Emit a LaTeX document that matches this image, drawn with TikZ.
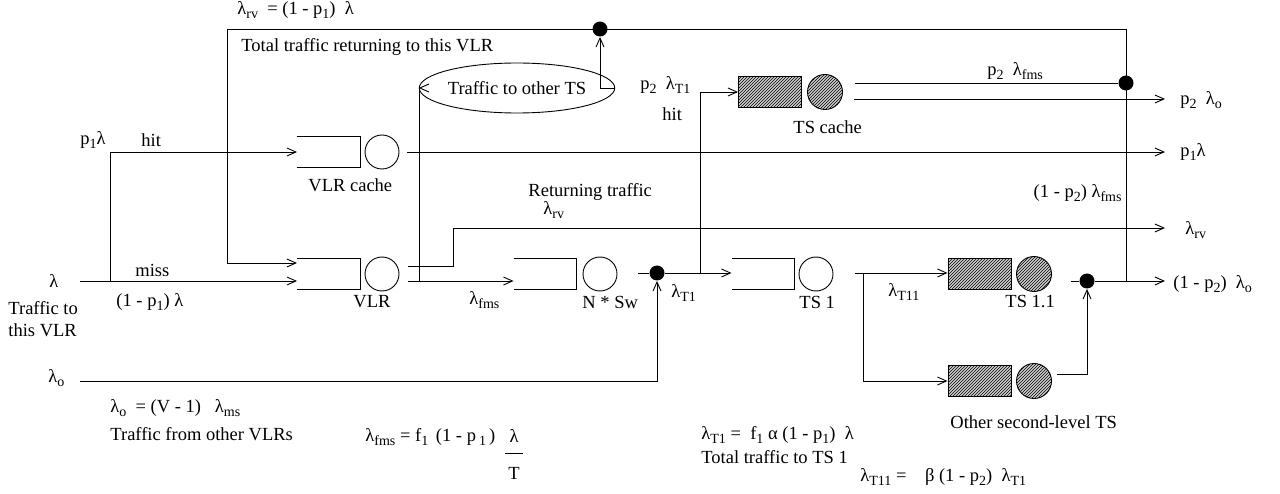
\documentclass[tikz,border=0pt]{standalone}
\usepackage{fontspec}
\setmainfont{Liberation Serif}
\newfontfamily\serf{Liberation Serif}
\usetikzlibrary{arrows.meta,patterns,shapes.geometric}
\newcommand\lsub[1]{\raisebox{-0.55ex}{\fontsize{14}{14}\selectfont #1}}
\begin{document}
\begin{tikzpicture}[x=1pt,y=-1pt,
  font=\serf\fontsize{18.5}{22}\selectfont,
  line width=0.9pt,
  arr/.style={-{Straight Barb[length=9pt,width=8pt]}},
  lbl/.style={inner sep=0pt,anchor=west},
  rlbl/.style={inner sep=0pt,anchor=east},
  qbox/.style={minimum width=62pt,minimum height=30pt,inner sep=0pt},
  oc/.style={circle,draw,minimum size=34pt,inner sep=0pt},
  sq/.style={draw,minimum width=63pt,minimum height=31pt,inner sep=0pt,fill=gray!35,postaction={pattern=north east lines}},
  sc/.style={circle,draw,minimum size=35pt,inner sep=0pt,fill=gray!35,postaction={pattern=north east lines}},
  dot/.style={circle,fill,inner sep=0pt,minimum size=15pt},
  ell/.style={ellipse,draw,minimum width=162pt,minimum height=50pt,inner sep=0pt}]
\useasboundingbox (0,0) rectangle (1280,494);

% queues
\node[qbox] (vcq) at (328.5,152) {};
\node[oc] (vcc) at (382,152) {};
\node[qbox] (vq) at (328.5,274) {};
\node[oc] (vc) at (382,274) {};
\node[qbox] (nq) at (545,274) {};
\node[oc] (nc) at (600,274) {};
\node[qbox] (tq) at (763,274) {};
\node[oc] (tc) at (816,274) {};
\foreach \n in {vcq,vq,nq,tq}
  \draw (\n.north west) -- (\n.north east) -- (\n.south east) -- (\n.south west);
\node[sq] (tcq) at (770,92) {};
\node[sc] (tcc) at (825,92) {};
\node[sq] (t11q) at (979.5,274) {};
\node[sc] (t11c) at (1034,274) {};
\node[sq] (oq) at (979.5,381) {};
\node[sc] (occ) at (1034,381) {};
\node[ell] (ell) at (517,88) {Traffic to other TS};
\node[dot] (d1) at (600,29) {};
\node[dot] (d2) at (1126,83) {};
\node[dot] (d3) at (657,273) {};
\node[dot] (d4) at (1087,281) {};

% free ends
\coordinate (inL) at (80,281);
\coordinate (split1) at (110,281);
\coordinate (lamO) at (80,381);
\coordinate (jr) at (1126,281);
\coordinate (vo) at (408,281);
\coordinate (vr) at (408,266);

% connectors
\draw[arr] (inL) -- (vq.west |- inL);
\draw[arr] (split1) |- (vcq.west);
\draw[arr] (jr) -- (1126,29) -- (227,29) -- (227,263) -- (297,263);
\draw (1071,281) -- (d4);
\draw[arr] (d4) -- (1165,281);
\draw[arr] (1057,374) -| (d4);
\draw[arr] (vo) -- (nq.west |- vo);
\draw[arr] (vr) -- (453,266) -- (453,228) -- (1165,228);
\draw[arr] (419,281) |- (ell.west);
\draw[arr] (ell.east) -| (d1);
\draw[arr] (407,152) -- (1165,152);
\draw (638,273) -- (d3);
\draw[arr] (d3) -- (tq.west |- d3);
\draw[arr] (700,273) |- (tcq.west);
\draw[arr] (lamO) -| (d3);
\draw[arr] (855,273) -- (t11q.west |- 855,273);
\draw[arr] (863,273) |- (oq.west);
\draw (855,83) -- (d2);
\draw[arr] (854,99) -- (1165,99);

% labels
\node[lbl] (l1) at (237,10) {λ\lsub{rv}\ \ = (1 - p\lsub{1})\ \ λ};
\node[lbl] (l2) at (241,47) {Total traffic returning to this VLR};
\node[lbl] (l3) at (80,140) {p\lsub{1}λ};
\node[lbl] (l4) at (141,140) {hit};
\node[lbl] (l5) at (135,270) {miss};
\node[lbl] (l6) at (116,302) {(1 - p\lsub{1}) λ};
\node[lbl] (l7) at (49,281) {λ};
\node[lbl,align=left] (l8) at (8,319) {Traffic to\\this VLR};
\node[lbl] (l9) at (308,185) {VLR cache};
\node[lbl] (l10) at (353,302) {VLR};
\node[lbl] (l11) at (469,300) {λ\lsub{fms}};
\node[lbl] (l12) at (582,302) {N * Sw};
\node[lbl] (l13) at (528,192) {Returning traffic};
\node[lbl] (l14) at (543,210) {λ\lsub{rv}};
\node[lbl] (l15) at (671,293) {λ\lsub{T1}};
\node[lbl] (l16) at (799,302) {TS 1};
\node[lbl] (l17) at (793,127) {TS cache};
\node[lbl] (l18) at (640,85) {p\lsub{2}\ \ λ\lsub{T1}};
\node[lbl] (l19) at (662,114) {hit};
\node[lbl] (l20) at (987,71) {p\lsub{2}\ \ λ\lsub{fms}};
\node[lbl] (l21) at (1180,100) {p\lsub{2}\ \ λ\lsub{o}};
\node[lbl] (l22) at (1180,152) {p\lsub{1}λ};
\node[rlbl] (l23) at (1122,193) {(1 - p\lsub{2}) λ\lsub{fms}};
\node[lbl] (l24) at (1185,230) {λ\lsub{rv}};
\node[lbl] (l25) at (1173,284) {(1 - p\lsub{2})\ \ λ\lsub{o}};
\node[lbl] (l26) at (888,292) {λ\lsub{T11}};
\node[lbl] (l27) at (1005,302) {TS 1.1};
\node[lbl] (l28) at (950,422) {Other second-level TS};
\node[lbl] (l29) at (48,378) {λ\lsub{o}};
\node[lbl] (l30) at (110,408) {λ\lsub{o}\ \ = (V - 1)\ \ \ λ\lsub{ms}};
\node[lbl] (l31) at (110,434) {Traffic from other VLRs};
\node[lbl] (l32) at (365,437) {λ\lsub{fms} = f\lsub{1}\,\ (1 - p\,\lsub{1}\,)};
\node[inner sep=0pt] (l33) at (514,436) {λ};
\draw (505,453) -- (523,453);
\node[inner sep=0pt] (l34) at (514,473) {T};
\node[lbl] (l35) at (701,435) {λ\lsub{T1} =\ \ f\lsub{1} α (1 - p\lsub{1})\ \ λ};
\node[lbl] (l36) at (701,457) {Total traffic to TS 1};
\node[lbl] (l37) at (860,477) {λ\lsub{T11} =\ \ \ \ β (1 - p\lsub{2})\ \ λ\lsub{T1}};
\end{tikzpicture}
\end{document}
